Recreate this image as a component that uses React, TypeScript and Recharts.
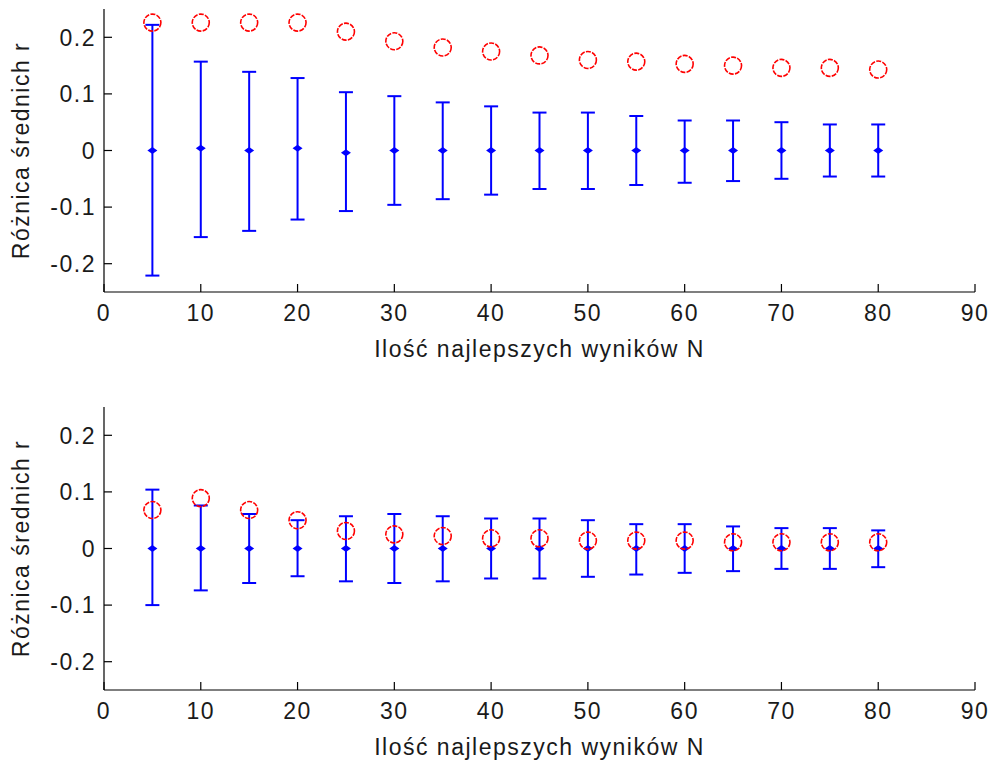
import React from "react"
import { ScatterChart, Scatter, XAxis, YAxis, ErrorBar } from "recharts"

const nValues = [5, 10, 15, 20, 25, 30, 35, 40, 45, 50, 55, 60, 65, 70, 75, 80]
const xTicks = [0, 10, 20, 30, 40, 50, 60, 70, 80, 90]
const yTicks = [-0.2, -0.1, 0, 0.1, 0.2]

// panel 1
const circlesTop = [0.226, 0.226, 0.226, 0.226, 0.21, 0.193, 0.182, 0.175, 0.168, 0.16, 0.157, 0.153, 0.15, 0.146, 0.146, 0.143]
const meansTop = [0, 0.004, 0, 0.004, -0.004, 0, 0, 0, 0, 0, 0, 0, 0, 0, 0, 0]
const upperTop = [0.222, 0.157, 0.139, 0.128, 0.103, 0.096, 0.085, 0.078, 0.067, 0.067, 0.061, 0.053, 0.053, 0.05, 0.046, 0.046]
const lowerTop = [-0.221, -0.153, -0.142, -0.122, -0.107, -0.096, -0.086, -0.078, -0.068, -0.068, -0.061, -0.057, -0.054, -0.05, -0.046, -0.046]

// panel 2
const circlesBottom = [0.068, 0.089, 0.068, 0.05, 0.031, 0.025, 0.022, 0.018, 0.018, 0.014, 0.014, 0.014, 0.011, 0.011, 0.011, 0.011]
const meansBottom = [0, 0, 0, 0, 0, 0, 0, 0, 0, 0, 0, 0, 0, 0, 0, 0]
const upperBottom = [0.104, 0.076, 0.061, 0.05, 0.057, 0.061, 0.057, 0.053, 0.053, 0.05, 0.043, 0.043, 0.039, 0.036, 0.036, 0.032]
const lowerBottom = [-0.1, -0.074, -0.061, -0.049, -0.058, -0.061, -0.058, -0.053, -0.053, -0.05, -0.046, -0.043, -0.04, -0.036, -0.036, -0.033]

const FONT = "'Liberation Sans', Arial, sans-serif"
const TEXT = "#1a1a1a"

const YTick = ({ x, y, payload }: any) => (
  <g>
    <line x1={x + 8} x2={x + 16} y1={y} y2={y} stroke="#000" strokeWidth={1.2} />
    <text x={x} y={y} dy="0.36em" textAnchor="end" fontSize={23} letterSpacing={1.5} fill={TEXT} fontFamily={FONT}>
      {payload.value}
    </text>
  </g>
)

const XTick = ({ x, y, payload }: any) => (
  <g>
    <line x1={x} x2={x} y1={y - 13} y2={y - 21} stroke="#000" strokeWidth={1.2} />
    <text x={x} y={y} dy="0.71em" textAnchor="middle" fontSize={23} letterSpacing={1.5} fill={TEXT} fontFamily={FONT}>
      {payload.value}
    </text>
  </g>
)

const MeanDot = ({ cx, cy }: any) => (
  <path d={`M${cx - 5},${cy} L${cx},${cy - 3.5} L${cx + 5},${cy} L${cx},${cy + 3.5} Z`} fill="#0000ff" />
)

const RedCircle = ({ cx, cy }: any) => (
  <circle cx={cx} cy={cy} r={8.5} fill="none" stroke="#ff0000" strokeWidth={1.6} strokeDasharray="5 1.3" />
)

function Panel({ circles, means, upper, lower, top }: any) {
  const meanData = nValues.map((n, i) => ({ x: n, y: means[i], err: [means[i] - lower[i], upper[i] - means[i]] }))
  const circleData = nValues.map((n, i) => ({ x: n, y: circles[i] }))
  return (
    <div style={{ position: "absolute", left: 0, top }}>
      <ScatterChart width={991} height={380} margin={{ top: 9, right: 16, bottom: 18, left: 14 }}>
        <XAxis
          type="number"
          dataKey="x"
          domain={[0, 90]}
          ticks={xTicks}
          height={70}
          tickLine={false}
          tickSize={0}
          tickMargin={13}
          tick={<XTick />}
          axisLine={{ stroke: "#000", strokeWidth: 1.2 }}
          label={{
            value: "Ilość najlepszych wyników N",
            position: "insideBottom",
            offset: 5,
            fontSize: 23,
            letterSpacing: 1.5,
            fill: TEXT,
            fontFamily: FONT,
          }}
        />
        <YAxis
          type="number"
          dataKey="y"
          domain={[-0.25, 0.25]}
          ticks={yTicks}
          width={90}
          tickLine={false}
          tickSize={0}
          tickMargin={8}
          tick={<YTick />}
          axisLine={{ stroke: "#000", strokeWidth: 1.2 }}
          label={{
            value: "Różnica średnich r",
            angle: -90,
            position: "insideLeft",
            offset: 7,
            fontSize: 23,
            letterSpacing: 1.5,
            fill: TEXT,
            fontFamily: FONT,
            style: { textAnchor: "middle" },
          }}
        />
        <Scatter data={meanData} shape={<MeanDot />} isAnimationActive={false}>
          <ErrorBar dataKey="err" direction="y" width={7} stroke="#0000ff" strokeWidth={2} isAnimationActive={false} />
        </Scatter>
        <Scatter data={circleData} shape={<RedCircle />} isAnimationActive={false} />
      </ScatterChart>
    </div>
  )
}

export default function App() {
  return (
    <div style={{ position: "absolute", left: 0, top: 0, width: 991, height: 762, background: "#fff" }}>
      <Panel circles={circlesTop} means={meansTop} upper={upperTop} lower={lowerTop} top={0} />
      <Panel circles={circlesBottom} means={meansBottom} upper={upperBottom} lower={lowerBottom} top={398} />
    </div>
  )
}
